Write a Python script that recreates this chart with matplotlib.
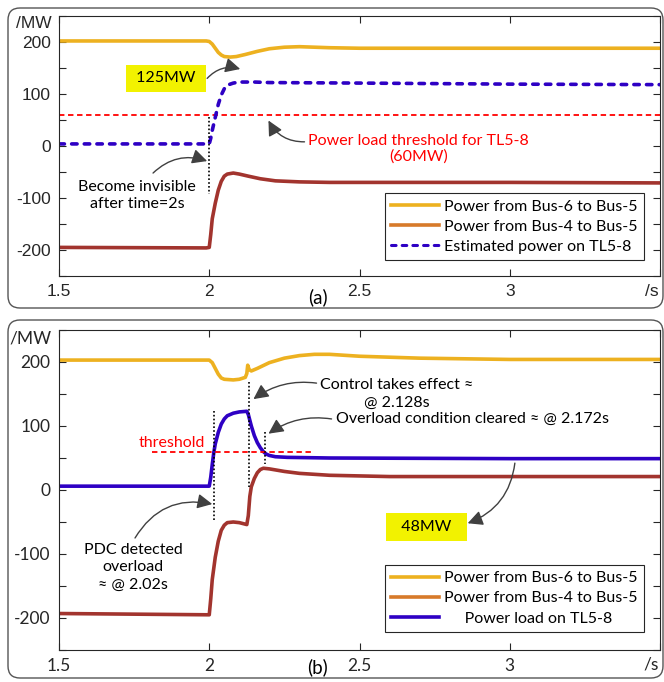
import matplotlib
matplotlib.use('Agg')
import matplotlib.pyplot as plt
from matplotlib.patches import FancyBboxPatch
from matplotlib.lines import Line2D
from matplotlib.transforms import IdentityTransform
from matplotlib.ticker import MultipleLocator, FuncFormatter

# ---- data (time in s, power in MW) ----
# panel (a)
t_a6 = [1.5, 1.99, 2.0, 2.01, 2.02, 2.03, 2.04, 2.05, 2.07, 2.09, 2.12, 2.16, 2.2, 2.25, 2.3, 2.35, 2.4, 2.5, 2.7, 3.0, 3.5]
p_a6 = [202, 202, 201, 196, 188, 180, 175, 172, 171, 172, 176, 182, 187, 190, 191, 190, 189, 188, 188, 188, 188]

t_a4 = [1.5, 1.99, 2.0, 2.005, 2.01, 2.02, 2.03, 2.04, 2.05, 2.06, 2.08, 2.1, 2.13, 2.17, 2.22, 2.3, 2.4, 2.6, 3.0, 3.5]
p_a4 = [-195, -196, -195, -170, -140, -110, -85, -68, -58, -54, -52, -54, -58, -63, -67, -69, -70, -70, -70, -71]

t_aest = [1.5, 2.0, 2.005, 2.01, 2.02, 2.03, 2.04, 2.05, 2.06, 2.08, 2.1, 2.15, 2.2, 2.5, 3.0, 3.5]
p_aest = [4, 4, 15, 30, 55, 80, 98, 110, 117, 121, 123, 123, 122, 121, 119, 118]

# panel (b)
t_b6 = [1.5, 2.0, 2.01, 2.02, 2.03, 2.04, 2.05, 2.08, 2.1, 2.12, 2.125, 2.128, 2.133, 2.14, 2.16, 2.2, 2.25, 2.3, 2.35, 2.4, 2.5, 2.7, 3.0, 3.5]
p_b6 = [203, 203, 199, 190, 181, 175, 173, 172, 173, 176, 182, 195, 188, 186, 190, 199, 206, 210, 212, 212, 209, 206, 204, 204]

t_b4 = [1.5, 2.0, 2.005, 2.01, 2.02, 2.03, 2.04, 2.05, 2.06, 2.08, 2.1, 2.125, 2.13, 2.135, 2.14, 2.15, 2.16, 2.17, 2.18, 2.2, 2.25, 2.3, 2.4, 2.6, 3.0, 3.5]
p_b4 = [-193, -195, -170, -140, -105, -80, -63, -55, -51, -50, -51, -54, -40, -10, 5, 18, 27, 32, 34, 33, 29, 26, 23, 21, 21, 21]

t_bload = [1.5, 2.0, 2.005, 2.01, 2.015, 2.02, 2.03, 2.04, 2.05, 2.06, 2.08, 2.1, 2.125, 2.13, 2.14, 2.15, 2.16, 2.17, 2.18, 2.19, 2.2, 2.22, 2.26, 2.4, 3.0, 3.5]
p_bload = [6, 6, 20, 40, 58, 72, 90, 103, 111, 116, 120, 122, 123, 118, 100, 85, 74, 66, 60, 56, 54, 52, 51, 50, 49, 49]

threshold = 60
xticks = [1.5, 2, 2.5, 3, 3.5]
xlabels = ['1.5', '2', '2.5', '3', '']
labels_a = ['Power from Bus-6 to Bus-5', 'Power from Bus-4 to Bus-5', 'Estimated power on TL5-8']
labels_b = ['Power from Bus-6 to Bus-5', 'Power from Bus-4 to Bus-5', '     Power load on TL5-8']

c_or = '#EDB120'
c_br = '#A2342E'
c_br_leg = '#D77A2A'
c_bl = '#2E00C4'
c_arrow = '#404040'
c_yel = '#F2F200'

txt_font = 'Lato'
fs = 11.5

fig = plt.figure(figsize=(6.64, 6.82), dpi=100)

# rounded panel frames (pixel coords)
for (x0, y0, w, h) in [(8, 374, 655, 300), (8, 4, 655, 358)]:
    fig.patches.append(FancyBboxPatch((x0, y0), w, h, boxstyle='round,pad=0,rounding_size=12',
                                      transform=IdentityTransform(), fill=False,
                                      ec='#555555', lw=1.0, figure=fig))

ax_a = fig.add_axes([59/664, 1-276/682, 601/664, 260/682])
ax_b = fig.add_axes([59/664, 1-650/682, 601/664, 320/682])


def style_axis(ax, tickfont, tsize):
    ax.set_xlim(1.5, 3.5)
    ax.set_ylim(-250, 250)
    ax.set_xticks(xticks)
    ax.set_xticklabels(xlabels)
    ax.yaxis.set_major_locator(MultipleLocator(50))
    ax.yaxis.set_major_formatter(FuncFormatter(lambda v, p: '%d' % v if v % 100 == 0 and abs(v) < 250 else ''))
    ax.tick_params(direction='in', top=True, right=True, length=5, width=0.8, colors='#262626',
                   labelsize=tsize, labelcolor='#262626', pad=6)
    for lab in ax.get_xticklabels() + ax.get_yticklabels():
        lab.set_family(tickfont)
    for s in ax.spines.values():
        s.set_color('#262626')
        s.set_linewidth(0.8)


style_axis(ax_a, 'Liberation Sans', 12.5)
style_axis(ax_b, txt_font, 12.5)

dash_blue = (0, (1.5, 2.0))

# ---- panel (a) ----
ax_a.plot(t_a6, p_a6, color=c_or, lw=2.6)
ax_a.plot(t_a4, p_a4, color=c_br, lw=2.6)
ax_a.axhline(threshold, color='red', lw=1.3, ls=(0, (3, 2)))
ax_a.plot(t_aest, p_aest, color=c_bl, lw=2.6, ls=dash_blue, dash_capstyle='round')
ax_a.plot([2.0, 2.0], [55, -92], color='black', lw=1.2, ls=(0, (1, 1.3)))

ax_a.text(1.857, 130, ' 125MW ', ha='center', va='center', fontsize=fs, family=txt_font,
          bbox=dict(boxstyle='square,pad=0.4', fc=c_yel, ec='none'))
ax_a.text(2.697, -6, 'Power load threshold for TL5-8\n(60MW)', ha='center', va='center',
          fontsize=fs, family=txt_font, color='red', linespacing=1.15)
ax_a.text(1.76, -95, 'Become invisible\nafter time=2s', ha='center', va='center',
          fontsize=fs, family=txt_font, linespacing=1.25)

arr = dict(arrowstyle='-|>,head_length=0.9,head_width=0.45', color=c_arrow, lw=1.0, shrinkA=0, shrinkB=0)
ax_a.annotate('', xy=(2.103, 148), xytext=(1.993, 130), arrowprops=dict(arr, connectionstyle='arc3,rad=-0.3'))
ax_a.annotate('', xy=(2.197, 49), xytext=(2.317, 8), arrowprops=dict(arr, connectionstyle='arc3,rad=-0.3'))
ax_a.annotate('', xy=(1.993, -29), xytext=(1.813, -52), arrowprops=dict(arr, connectionstyle='arc3,rad=-0.3'))

h_a = [Line2D([], [], color=c_or, lw=2.6), Line2D([], [], color=c_br_leg, lw=2.6),
       Line2D([], [], color=c_bl, lw=2.2, ls=dash_blue, dash_capstyle='round')]
leg = ax_a.legend(h_a, labels_a, loc='lower right', bbox_to_anchor=(0.973, 0.06), borderaxespad=0,
                  fancybox=False, edgecolor='#262626', framealpha=1, handlelength=3.0,
                  handletextpad=0.3, labelspacing=0.38, borderpad=0.4,
                  prop={'family': txt_font, 'size': fs})
leg.get_frame().set_linewidth(0.8)

# ---- panel (b) ----
ax_b.plot(t_b6, p_b6, color=c_or, lw=2.6)
ax_b.plot(t_b4, p_b4, color=c_br, lw=2.6)
ax_b.plot(t_bload, p_bload, color=c_bl, lw=2.6)
ax_b.plot([1.81, 2.343], [threshold, threshold], color='red', lw=1.3, ls=(0, (3, 2)))
ax_b.plot([2.017, 2.017], [123, -48], color='black', lw=1.2, ls=(0, (1, 1.3)))
ax_b.plot([2.131, 2.131], [168, 4], color='black', lw=1.2, ls=(0, (1, 1.3)))
ax_b.plot([2.184, 2.184], [90, 40], color='black', lw=1.2, ls=(0, (1, 1.3)))

ax_b.text(1.877, 74, 'threshold', ha='center', va='center', fontsize=fs, family=txt_font, color='red')
ax_b.text(2.623, 150, 'Control takes effect \u2248\n@ 2.128s', ha='center', va='center',
          fontsize=fs, family=txt_font, linespacing=1.3)
ax_b.text(2.877, 111, 'Overload condition cleared \u2248 @ 2.172s', ha='center', va='center',
          fontsize=fs, family=txt_font)
ax_b.text(2.723, -58, '  48MW  ', ha='center', va='center', fontsize=fs, family=txt_font,
          bbox=dict(boxstyle='square,pad=0.45', fc=c_yel, ec='none'))
ax_b.text(1.747, -121, 'PDC detected\noverload\n\u2248 @ 2.02s', ha='center', va='center',
          fontsize=fs, family=txt_font, linespacing=1.3)

ax_b.annotate('', xy=(2.147, 142), xytext=(2.357, 167), arrowprops=dict(arr, connectionstyle='arc3,rad=0.2'))
ax_b.annotate('', xy=(2.197, 88), xytext=(2.407, 111), arrowprops=dict(arr, connectionstyle='arc3,rad=0.2'))
ax_b.annotate('', xy=(2.86, -52), xytext=(3.017, 42), arrowprops=dict(arr, connectionstyle='arc3,rad=-0.3'))
ax_b.annotate('', xy=(2.01, -22), xytext=(1.753, -75), arrowprops=dict(arr, connectionstyle='arc3,rad=-0.35'))

h_b = [Line2D([], [], color=c_or, lw=2.6), Line2D([], [], color=c_br_leg, lw=2.6),
       Line2D([], [], color=c_bl, lw=2.6)]
leg = ax_b.legend(h_b, labels_b, loc='lower right', bbox_to_anchor=(0.973, 0.056), borderaxespad=0,
                  fancybox=False, edgecolor='#262626', framealpha=1, handlelength=3.0,
                  handletextpad=0.3, labelspacing=0.38, borderpad=0.4,
                  prop={'family': txt_font, 'size': fs})
leg.get_frame().set_linewidth(0.8)

# axis unit labels and panel tags
fig.text(52/664, 1-24/682, '/MW', ha='right', va='center', fontsize=12.5, family='Liberation Sans', color='#262626')
fig.text(52/664, 1-338/682, '/MW', ha='right', va='center', fontsize=12.5, family=txt_font, color='#262626')
fig.text(659/664, 1-291/682, '/s', ha='right', va='center', fontsize=12.5, family='Liberation Sans', color='#262626')
fig.text(659/664, 1-664/682, '/s', ha='right', va='center', fontsize=12.5, family=txt_font, color='#262626')
fig.text(318/664, 1-297/682, '(a)', ha='center', va='center', fontsize=13.5, family=txt_font)
fig.text(318/664, 1-667/682, '(b)', ha='center', va='center', fontsize=13.5, family=txt_font)

fig.savefig('out.png', dpi=100)
